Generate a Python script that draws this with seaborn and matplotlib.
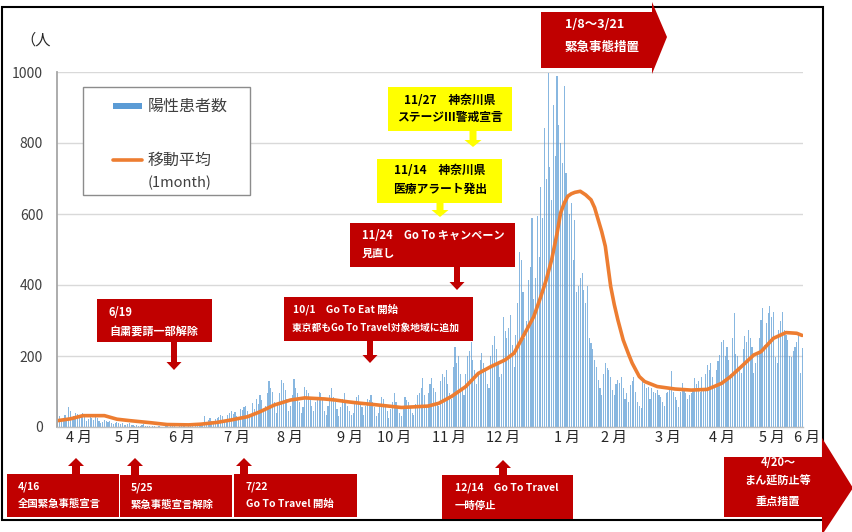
import numpy as np
import pandas as pd
import matplotlib
matplotlib.use("Agg")
import matplotlib.pyplot as plt
import seaborn as sns
from matplotlib.patches import Rectangle, Polygon
from matplotlib.lines import Line2D

# ---------------- data (daily new positive cases, Kanagawa) ----------------
apr20 = [76, 30, 22, 18, 34, 25, 55, 45, 20, 30, 40, 38, 24, 30, 40, 28, 16, 22, 30, 26, 20]
may20 = [36, 25, 18, 12, 15, 20, 17, 14, 18, 10, 8, 12, 15, 10, 9, 11, 7, 5, 8, 10, 6, 5, 4, 6, 3, 2, 5, 8, 4, 3, 2]
jun20 = [1, 2, 3, 1, 4, 2, 0, 1, 3, 2, 1, 2, 4, 3, 1, 0, 2, 3, 5, 2, 1, 3, 4, 2, 1, 5, 6, 3, 4, 8]
jul20 = [30, 15, 20, 25, 18, 12, 22, 25, 28, 33, 30, 20, 15, 35, 40, 45, 38, 42, 30, 25, 50, 48, 55, 60, 45, 38, 35, 67, 50, 80, 65]
aug20 = [90, 75, 45, 60, 95, 130, 110, 100, 70, 40, 65, 95, 132, 125, 105, 80, 45, 60, 90, 135, 110, 95, 70, 40, 55, 114, 104, 95, 85, 60, 45]
sep20 = [70, 85, 100, 95, 80, 45, 35, 60, 90, 110, 85, 70, 50, 30, 55, 80, 95, 75, 60, 45, 35, 40, 70, 85, 90, 70, 55, 35, 60, 80]
oct20 = [75, 90, 70, 55, 30, 40, 60, 85, 80, 65, 45, 25, 50, 70, 95, 70, 55, 40, 30, 60, 85, 75, 70, 55, 40, 35, 65, 90, 95, 110, 137]
nov20 = [90, 60, 95, 120, 137, 110, 100, 70, 60, 130, 150, 140, 160, 120, 95, 80, 170, 226, 180, 200, 150, 110, 90, 150, 200, 215, 240, 190, 160, 120]
dec20 = [150, 190, 208, 180, 160, 120, 110, 200, 230, 255, 220, 180, 140, 150, 311, 270, 250, 280, 316, 230, 170, 260, 349, 494, 471, 380, 250, 300, 415, 450, 588]
jan21 = [360, 420, 593, 480, 677, 590, 842, 700, 997, 733, 640, 906, 762, 988, 850, 800, 743, 960, 715, 650, 600, 630, 471, 584, 380, 396, 420, 433, 386, 350, 396]
feb21 = [250, 236, 220, 190, 170, 133, 110, 90, 150, 180, 165, 160, 140, 104, 90, 120, 133, 125, 142, 110, 80, 95, 70, 118, 130, 142, 100, 70]
mar21 = [60, 53, 133, 120, 110, 114, 80, 109, 100, 95, 105, 90, 85, 70, 60, 95, 100, 110, 159, 100, 85, 76, 57, 100, 123, 110, 95, 80, 90, 95, 105]
apr21 = [137, 120, 130, 100, 142, 110, 150, 175, 160, 180, 140, 112, 160, 185, 203, 240, 245, 200, 226, 190, 150, 250, 320, 205, 200, 170, 151, 220, 255, 240]
may21 = [274, 250, 226, 151, 180, 212, 250, 302, 335, 230, 292, 320, 340, 310, 325, 198, 180, 274, 300, 325, 274, 260, 245, 200, 198, 215, 226, 240, 259, 151, 222]

month_starts = ["2020-04-10", "2020-05-01", "2020-06-01", "2020-07-01", "2020-08-01", "2020-09-01",
                "2020-10-01", "2020-11-01", "2020-12-01", "2021-01-01", "2021-02-01", "2021-03-01",
                "2021-04-01", "2021-05-01"]
month_data = [apr20, may20, jun20, jul20, aug20, sep20, oct20, nov20, dec20, jan21, feb21, mar21, apr21, may21]

# moving average (1 month)
ma_dates = ["2020-04-10", "2020-04-17", "2020-04-24", "2020-05-06", "2020-05-13", "2020-05-20", "2020-06-01",
            "2020-06-10", "2020-06-22", "2020-06-29", "2020-07-08", "2020-07-16", "2020-07-25", "2020-08-01",
            "2020-08-09", "2020-08-18", "2020-08-26", "2020-09-06", "2020-09-12", "2020-09-19", "2020-09-26",
            "2020-10-06", "2020-10-19", "2020-10-27", "2020-11-03", "2020-11-09", "2020-11-16", "2020-11-24",
            "2020-12-01", "2020-12-08", "2020-12-16", "2020-12-21", "2020-12-27", "2021-01-01", "2021-01-05",
            "2021-01-08", "2021-01-11", "2021-01-14", "2021-01-16", "2021-01-18", "2021-01-20", "2021-01-22",
            "2021-01-24", "2021-01-27", "2021-01-30", "2021-02-02", "2021-02-04", "2021-02-06", "2021-02-08",
            "2021-02-10", "2021-02-13", "2021-02-15", "2021-02-17", "2021-02-20", "2021-02-23", "2021-02-25",
            "2021-03-01", "2021-03-04", "2021-03-11", "2021-03-21", "2021-03-30", "2021-04-08", "2021-04-16",
            "2021-04-21", "2021-04-27", "2021-05-04", "2021-05-08", "2021-05-15", "2021-05-22", "2021-05-28",
            "2021-05-31"]
ma_vals = [18, 23, 32, 32, 22, 18, 12, 7, 6, 8, 13, 20, 29, 43, 62, 76, 82, 79, 76, 71, 67, 62, 55, 57, 59,
           67, 86, 114, 151, 170, 189, 208, 264, 311, 368, 415, 471, 545, 603, 630, 650, 657, 661, 664, 654,
           640, 618, 584, 550, 509, 396, 345, 302, 245, 205, 180, 142, 128, 114, 107, 104, 106, 123, 142, 170,
           203, 212, 250, 266, 264, 258]

month_labels = ["4 月", "5 月", "6 月", "7 月", "8 月", "9 月", "10 月", "11 月", "12 月",
                "1 月", "2 月", "3 月", "4 月", "5 月", "6 月"]
yticks = [0, 200, 400, 600, 800, 1000]

# ---------------- build frame ----------------
start = pd.Timestamp("2020-04-10")
dates, vals = [], []
for ms, arr in zip(month_starts, month_data):
    d0 = pd.Timestamp(ms)
    for i, v in enumerate(arr):
        dates.append(d0 + pd.Timedelta(days=i))
        vals.append(v)
df = pd.DataFrame({"date": dates, "cases": vals})
df["idx"] = (df["date"] - start).dt.days

ma = pd.DataFrame({"date": pd.to_datetime(ma_dates), "ma": ma_vals})
ma["idx"] = (ma["date"] - start).dt.days

bounds = [-0.5] + [(pd.Timestamp(m) - start).days - 0.5 for m in month_starts[1:]] + [416.5]
label_pos = [11.7, 39.1, 69.3, 100.0, 129.6, 163.1, 187.7, 218.4, 248.6, 284.4, 310.6, 340.8, 371.5, 399.4, 419.0]

# ---------------- plotting ----------------
sns.set_theme(style="white")
plt.rcParams["font.family"] = ["Noto Sans CJK JP", "DejaVu Sans"]

W, H = 853, 532
fig = plt.figure(figsize=(W / 100, H / 100), dpi=100)
fig.patch.set_facecolor("white")
ax = fig.add_axes([57 / W, 1 - 427 / H, 746 / W, 355 / H])

BLUE = "#5B9BD5"
ORANGE = "#ED7D31"
RED = "#C00000"
YEL = "#FFFF00"

sns.barplot(data=df, x="idx", y="cases", native_scale=True, color=BLUE, width=0.62,
            errorbar=None, saturation=1, linewidth=0, alpha=0.72, ax=ax)
sns.lineplot(data=ma, x="idx", y="ma", color=ORANGE, linewidth=2.6, ax=ax)

ax.set_xlim(-0.5, 416.5)
ax.set_ylim(0, 1000)
ax.set_yticks(yticks)
ax.set_yticklabels([str(t) for t in yticks], fontsize=10, color="#404040")
ax.yaxis.grid(True, color="#D9D9D9", linewidth=1)
ax.xaxis.grid(False)
ax.set_axisbelow(True)
ax.set_xlabel("")
ax.set_ylabel("")
for s in ["top", "right"]:
    ax.spines[s].set_visible(False)
ax.spines["left"].set_color("#A6A6A6")
ax.spines["left"].set_linewidth(1.3)
ax.spines["bottom"].set_color("#BFBFBF")
ax.spines["bottom"].set_linewidth(1.0)
ax.tick_params(axis="y", length=0, pad=10)

ax.set_xticks(bounds)
ax.set_xticklabels([])
ax.tick_params(axis="x", direction="out", length=25, width=1.3, color="#A6A6A6")
xtr = ax.get_xaxis_transform()
for p, lab in zip(label_pos, month_labels):
    ax.text(p, -0.030, lab, transform=xtr, ha="center", va="center", fontsize=10.5,
            color="#262626", clip_on=False)

fig.text(20 / W, 1 - 40 / H, "（人", fontsize=11, color="#262626", ha="left", va="center")

# ---------------- legend (manual) ----------------
def P(x, y):
    return (x / W, 1 - y / H)

fig.add_artist(Rectangle(P(83, 195), 167 / W, 108 / H, transform=fig.transFigure,
                         facecolor="white", edgecolor="#8C8C8C", linewidth=1.0, zorder=5))
fig.add_artist(Rectangle(P(113, 109), 29 / W, 6 / H, transform=fig.transFigure,
                         facecolor=BLUE, edgecolor="none", zorder=6))
fig.add_artist(Line2D([113 / W, 142 / W], [1 - 160 / H, 1 - 160 / H], transform=fig.transFigure,
                      color=ORANGE, linewidth=2.6, zorder=6))
fig.text(148 / W, 1 - 106 / H, "陽性患者数", fontsize=11.5, color="#404040", va="center", zorder=7)
fig.text(148 / W, 1 - 160 / H, "移動平均", fontsize=11.5, color="#404040", va="center", zorder=7)
fig.text(148 / W, 1 - 183 / H, "(1month)", fontsize=10.5, color="#404040", va="center", zorder=7)

# ---------------- annotation helpers ----------------
def box(x0, y0, x1, y1, color):
    fig.add_artist(Polygon([P(x0, y0), P(x1, y0), P(x1, y1), P(x0, y1)], closed=True,
                           transform=fig.transFigure, facecolor=color, edgecolor="none", zorder=8))

def arrow(cx, y0, y1, color, sw=3.0, hw=7.5, hl=8):
    d = 1 if y1 > y0 else -1
    pts = [(cx - sw, y0), (cx + sw, y0), (cx + sw, y1 - d * hl), (cx + hw, y1 - d * hl),
           (cx, y1), (cx - hw, y1 - d * hl), (cx - sw, y1 - d * hl)]
    fig.add_artist(Polygon([P(*p) for p in pts], closed=True, transform=fig.transFigure,
                           facecolor=color, edgecolor="none", zorder=8))

def txt(x, y, s, color="white", size=8, ha="left"):
    fig.text(x / W, 1 - y / H, s, fontsize=size, color=color, fontweight="bold",
             ha=ha, va="center", zorder=9)

# 6/19
box(97, 299, 212, 342, RED)
arrow(174, 342, 370, RED)
txt(109, 313, "6/19")
txt(109, 331, "自粛要請一部解除")

# 10/1
box(284, 297, 473, 341, RED)
arrow(370, 341, 363, RED)
txt(293, 309, "10/1　Go To Eat 開始", size=7.5)
txt(292, 328, "東京都もGo To Travel対象地域に追加", size=7)

# 11/24
box(350, 223, 515, 267, RED)
arrow(457, 267, 290, RED)
txt(362, 236, "11/24　Go To キャンペーン")
txt(362, 253, "見直し")

# yellow 11/14
box(377, 159, 502, 203, YEL)
arrow(440, 203, 217, YEL, sw=3.5, hw=8.5, hl=7)
txt(440, 171, "11/14　神奈川県", color="black", size=8.5, ha="center")
txt(440, 189, "医療アラート発出", color="black", size=8.5, ha="center")

# yellow 11/27
box(388, 87, 512, 131, YEL)
arrow(473, 131, 147, YEL, sw=3.5, hw=8.5, hl=7)
txt(450, 100, "11/27　神奈川県", color="black", size=8.5, ha="center")
txt(450, 118, "ステージⅢ警戒宣言", color="black", size=8.5, ha="center")

# top 1/8~3/21 pentagon
fig.add_artist(Polygon([P(541, 12), P(652, 12), P(652, 2), P(667, 37), P(652, 74), P(652, 68), P(541, 68)],
                       closed=True, transform=fig.transFigure, facecolor=RED, edgecolor="none", zorder=8))
txt(565, 25, "1/8～3/21", size=9)
txt(565, 48, "緊急事態措置", size=9)

# bottom boxes
box(7, 474, 119, 517, RED)
arrow(76, 474, 458, RED, sw=4, hw=8, hl=8)
txt(18, 487, "4/16", size=7.5)
txt(18, 504, "全国緊急事態宣言", size=7.5)

box(120, 475, 232, 517, RED)
arrow(135, 475, 458, RED, sw=4, hw=8, hl=8)
txt(131, 488, "5/25", size=7.5)
txt(131, 505, "緊急事態宣言解除", size=7.5)

box(234, 474, 357, 517, RED)
arrow(244, 474, 458, RED, sw=4, hw=8, hl=8)
txt(246, 487, "7/22", size=7.5)
txt(246, 504, "Go To Travel 開始", size=7.5)

box(442, 475, 573, 519, RED)
arrow(503, 475, 460, RED, sw=4, hw=8, hl=8)
txt(455, 488, "12/14　Go To Travel", size=7.5)
txt(455, 506, "一時停止", size=7.5)

# chart frame
fig.add_artist(Rectangle(P(2, 520), 821 / W, 513 / H, transform=fig.transFigure,
                         fill=False, edgecolor="black", linewidth=1.5, zorder=7))

# right pentagon 4/20~
fig.add_artist(Polygon([P(724, 457), P(822, 457), P(822, 438), P(853, 488), P(822, 535), P(822, 517), P(724, 517)],
                       closed=True, transform=fig.transFigure, facecolor=RED, edgecolor="none", zorder=8))
txt(778, 463, "4/20～", size=8, ha="center")
txt(778, 481, "まん延防止等", size=8, ha="center")
txt(778, 501, "重点措置", size=8, ha="center")

fig.savefig("out.png", dpi=100, facecolor="white")
